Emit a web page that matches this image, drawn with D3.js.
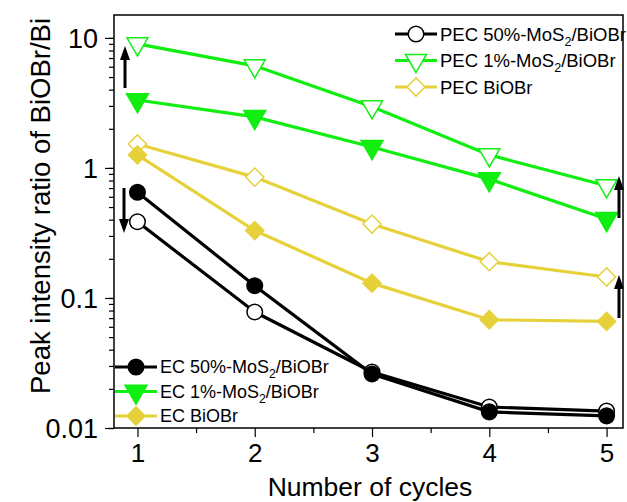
<!DOCTYPE html>
<html><head><meta charset="utf-8">
<script src="https://cdn.jsdelivr.net/npm/d3@7"></script>
<style>body{margin:0;background:#fff}text{font-family:"Liberation Sans",Arial,sans-serif}</style>
</head><body><svg id="c" width="627" height="502"></svg>
<script>
const cycles = [1, 2, 3, 4, 5];
const pec1 = [9.0, 6.1, 2.95, 1.26, 0.73];
const ec1 = [3.33, 2.47, 1.45, 0.82, 0.405];
const pecB = [1.53, 0.85, 0.37, 0.19, 0.145];
const ecB = [1.26, 0.33, 0.13, 0.068, 0.066];
const pec50 = [0.385, 0.078, 0.027, 0.0145, 0.0135];
const ec50 = [0.65, 0.124, 0.026, 0.0133, 0.0124];
const yTicks = [0.01, 0.1, 1, 10];
const yTickLabels = ["0.01", "0.1", "1", "10"];

const GREEN = "#11ee11", YEL = "#e6d13b", BLK = "#000";
const svg = d3.select("#c");
const L = 114, R = 623, T = 15, B = 428;
const x = d3.scaleLinear().domain([0.8, 5.14]).range([L, R]);
const y = d3.scaleLog().domain([0.01, 15]).range([B, T]);

// frame
svg.append("rect").attr("x", L).attr("y", T).attr("width", R - L).attr("height", B - T)
  .attr("fill", "none").attr("stroke", "#000").attr("stroke-width", 1.5);

// y axis
const minor = [];
for (let e = -2; e <= 1; e++) for (let m = 1; m <= 9; m++) { const v = m * Math.pow(10, e); if (v <= 15 && v >= 0.01) minor.push(v); }
const yAx = svg.append("g").attr("transform", `translate(${L},0)`)
  .call(d3.axisLeft(y).tickValues(minor).tickSize(5).tickFormat(""));
const yAx2 = svg.append("g").attr("transform", `translate(${L},0)`)
  .call(d3.axisLeft(y).tickValues(yTicks).tickSize(9).tickPadding(7).tickFormat((d, i) => yTickLabels[i]));
[yAx, yAx2].forEach(g => { g.select(".domain").remove(); g.selectAll("line").attr("stroke-width", 1.2); });
yAx2.selectAll("text").attr("font-size", 27).attr("fill", "#000").attr("dy", "0.36em");

// x axis
const xMinor = [1.5, 2.5, 3.5, 4.5];
const xAx = svg.append("g").attr("transform", `translate(0,${B})`)
  .call(d3.axisBottom(x).tickValues(xMinor).tickSize(5).tickFormat(""));
const xAx2 = svg.append("g").attr("transform", `translate(0,${B})`)
  .call(d3.axisBottom(x).tickValues(cycles).tickSize(9).tickPadding(7).tickFormat(d3.format("d")));
[xAx, xAx2].forEach(g => { g.select(".domain").remove(); g.selectAll("line").attr("stroke-width", 1.2); });
xAx2.selectAll("text").attr("font-size", 26).attr("fill", "#000");

// axis titles
svg.append("text").attr("x", 370).attr("y", 496).attr("text-anchor", "middle").attr("font-size", 26.5).text("Number of cycles");
svg.append("text").attr("transform", "translate(50,206) rotate(-90)").attr("text-anchor", "middle").attr("font-size", 27.5)
  .text("Peak intensity ratio of BiOBr/Bi");

const line = d3.line().x((d, i) => x(cycles[i])).y(d => y(d));
const sym = {
  circle: d3.symbol().type(d3.symbolCircle).size(190),
  tri: d3.symbol().type(d3.symbolTriangle).size(190),
  diamond: d3.symbol().type(d3.symbolSquare).size(165)
};
function marker(g, type, cx, cy, color, filled) {
  const p = g.append("path").attr("d", sym[type]())
    .attr("fill", filled ? color : "#fff").attr("stroke", type === "circle" ? "#000" : color).attr("stroke-width", 1.5);
  if (type === "tri") p.attr("transform", `translate(${cx},${cy}) rotate(180)`).attr("d", d3.symbol().type(d3.symbolTriangle).size(filled ? 210 : 190)());
  else if (type === "diamond") p.attr("transform", `translate(${cx},${cy}) rotate(45)`);
  else p.attr("transform", `translate(${cx},${cy})`);
  return p;
}
const series = [
  { data: pecB, color: YEL, type: "diamond", filled: false },
  { data: ecB, color: YEL, type: "diamond", filled: true },
  { data: pec1, color: GREEN, type: "tri", filled: false },
  { data: ec1, color: GREEN, type: "tri", filled: true },
  { data: pec50, color: BLK, type: "circle", filled: false },
  { data: ec50, color: BLK, type: "circle", filled: true }
];
const plot = svg.append("g");
series.forEach(s => {
  plot.append("path").attr("d", line(s.data)).attr("fill", "none").attr("stroke", s.color).attr("stroke-width", 3.2);
});
series.forEach(s => {
  s.data.forEach((v, i) => marker(plot, s.type, x(cycles[i]), y(v), s.color, s.filled));
});

// arrows
function arrow(xp, y1, y2) {
  const dir = y2 < y1 ? -1 : 1;
  svg.append("line").attr("x1", xp).attr("x2", xp).attr("y1", y1).attr("y2", y2 - dir * 12).attr("stroke", "#000").attr("stroke-width", 3);
  svg.append("path").attr("d", `M${xp - 5},${y2 - dir * 14}L${xp + 5},${y2 - dir * 14}L${xp},${y2}Z`).attr("fill", "#000");
}
arrow(125, 88, 46);
arrow(124, 188, 233);
arrow(619, 218, 176);
arrow(619, 318, 275);

// legends
function legend(items, lx, ly, dy, fs) {
  items.forEach((it, i) => {
    const cy = ly + i * dy;
    svg.append("line").attr("x1", lx).attr("x2", lx + 42).attr("y1", cy).attr("y2", cy).attr("stroke", it.color).attr("stroke-width", 3.2);
    marker(svg, it.type, lx + 21, cy, it.color, it.filled);
    const t = svg.append("text").attr("x", lx + 45).attr("y", cy + fs * 0.36).attr("font-size", fs).attr("fill", "#000");
    it.label.forEach(part => {
      if (part.sub) t.append("tspan").attr("font-size", fs * 0.68).attr("dy", 5).text(part.t);
      else t.append("tspan").attr("dy", part.back ? -5 : 0).text(part.t);
    });
  });
}
const mos = (pre) => [{ t: pre + "-MoS" }, { t: "2", sub: true }, { t: "/BiOBr", back: true }];
legend([
  { color: BLK, type: "circle", filled: false, label: mos("PEC 50%") },
  { color: GREEN, type: "tri", filled: false, label: mos("PEC 1%") },
  { color: YEL, type: "diamond", filled: false, label: [{ t: "PEC BiOBr" }] }
], 395, 34, 26.5, 18.5);
legend([
  { color: BLK, type: "circle", filled: true, label: mos("EC 50%") },
  { color: GREEN, type: "tri", filled: true, label: mos("EC 1%") },
  { color: YEL, type: "diamond", filled: true, label: [{ t: "EC BiOBr" }] }
], 115, 367, 24.5, 18);
</script></body></html>
